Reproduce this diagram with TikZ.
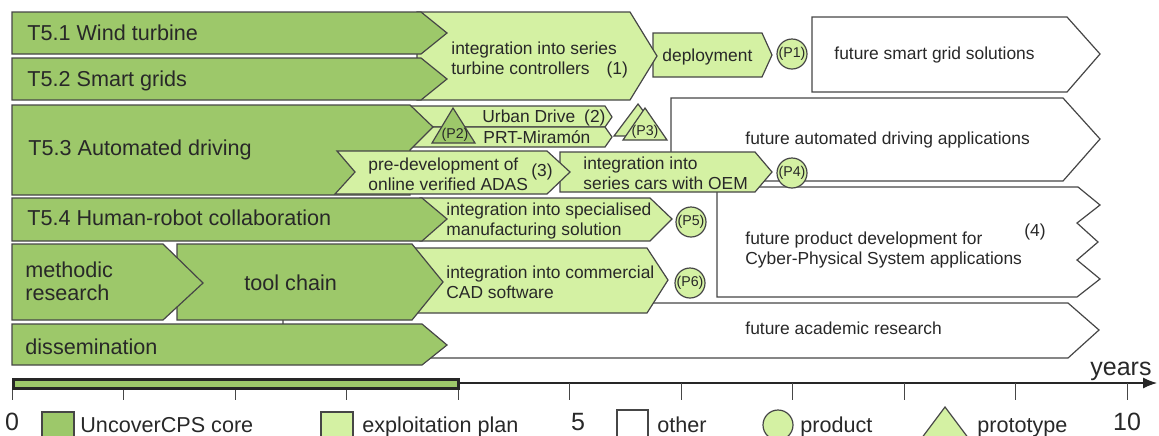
\documentclass[tikz,border=0pt]{standalone}
\usepackage{fontspec}
\setmainfont{Liberation Sans}
\usetikzlibrary{arrows.meta}
\definecolor{coregreen}{RGB}{157,200,106}
\definecolor{plangreen}{RGB}{212,241,163}
\definecolor{edgegray}{RGB}{70,70,70}
\definecolor{txtgray}{RGB}{40,40,40}
\tikzset{
  core/.style={fill=coregreen, draw=edgegray, line width=0.6pt},
  plan/.style={fill=plangreen, draw=edgegray, line width=0.6pt},
  other/.style={fill=white, draw=edgegray, line width=0.6pt},
  bigtxt/.style={font=\fontsize{10.8}{11.5}\selectfont, text=txtgray, inner sep=0pt, anchor=base west, align=left},
  midtxt/.style={font=\fontsize{8.7}{9.8}\selectfont, text=txtgray, inner sep=0pt, anchor=base west, align=left},
  ptxt/.style={font=\fontsize{7.1}{8}\selectfont, text=txtgray, inner sep=0pt},
  axtxt/.style={font=\fontsize{12.5}{14}\selectfont, text=txtgray, inner sep=0pt, anchor=base},
  prod/.style={circle, fill=plangreen, draw=edgegray, line width=0.6pt, minimum size=15pt,
               inner sep=0pt, font=\fontsize{7.1}{8}\selectfont, text=txtgray},
}

\begin{document}
\begin{tikzpicture}[x=0.5pt, y=-0.5pt]
  \useasboundingbox (0,0) rectangle (1159,435);
  \clip (0,0) rectangle (1159,435);

  %% === other: future plans in the back ===
  \draw[other] (812,17) -- (1067,17) -- (1100,54) -- (1067,92) -- (812,92) -- cycle;
  \draw[other] (671,98) -- (1063,98) -- (1100,139) -- (1063,181) -- (671,181) -- cycle;
  \draw[other] (717,187) -- (1078,187) -- (1100,205) -- (1077,223) -- (1098,242)
               -- (1077,260) -- (1100,279) -- (1077,297) -- (717,297) -- cycle;
  \draw[other] (283,303) -- (1068,303) -- (1099,330) -- (1068,358) -- (283,358) -- cycle;

  % multi-line texts are placed at the baseline of their last line
  \node[midtxt] (fsmart) at (834,59) {future smart grid solutions};
  \node[midtxt] (fauto) at (745,144) {future automated driving applications};
  \node[midtxt] (fprod) at (745,264) {future product development for\\Cyber-Physical System applications};
  \node[midtxt, anchor=center] (fprodn) at (1035,232) {(4)};
  \node[midtxt] (facad) at (745,334) {future academic research};

  %% === exploitation plan ===
  \draw[plan] (653,33) -- (762,33) -- (772,55) -- (762,77) -- (653,77) -- cycle;
  \draw[plan] (417,12) -- (630,12) -- (657,56) -- (630,100) -- (417,100) -- cycle;
  \draw[plan] (410,106) -- (605,106) -- (612,117) -- (605,127) -- (410,127) -- cycle;
  \draw[plan] (410,127) -- (605,127) -- (612,137) -- (605,147) -- (410,147) -- cycle;
  \draw[plan] (560,152) -- (755,152) -- (772,172) -- (755,192) -- (560,192) -- cycle;
  \draw[plan] (420,198) -- (650,198) -- (672,219) -- (650,241) -- (420,241) -- cycle;
  \draw[plan] (410,248) -- (647,248) -- (668,280) -- (647,313) -- (410,313) -- cycle;

  \node[midtxt] (deploy) at (662,61) {deployment};
  \node[midtxt] (intturb) at (451,74) {integration into series\\turbine controllers\hspace{8.5pt}(1)};
  \node[midtxt] (urban) at (482,122) {Urban Drive\hspace{4.5pt}(2)};
  \node[midtxt] (prt) at (483,143) {PRT-Miramón};
  \node[midtxt] (intcars) at (583,189) {integration into\\series cars with OEM};
  \node[midtxt] (intspec) at (446,235) {integration into specialised\\manufacturing solution};
  \node[midtxt] (intcad) at (446,298) {integration into commercial\\CAD software};

  %% === UncoverCPS core ===
  \draw[core] (12,12) -- (421,12) -- (447,33) -- (421,54) -- (12,54) -- cycle;
  \draw[core] (12,58) -- (421,58) -- (447,79) -- (421,100) -- (12,100) -- cycle;
  \draw[core] (12,105) -- (410,105) -- (433,127) -- (410,150) -- (410,195) -- (12,195) -- cycle;
  % pre-development sits over T5.3
  \draw[plan] (337,151) -- (547,151) -- (570,172) -- (547,194) -- (335,194) -- (355,172) -- cycle;
  \draw[core] (12,198) -- (422,198) -- (447,219) -- (422,241) -- (12,241) -- cycle;
  \draw[core] (177,244) -- (412,244) -- (443,282) -- (412,320) -- (177,320) -- cycle;
  \draw[core] (12,244) -- (163,244) -- (203,283) -- (163,320) -- (12,320) -- cycle;
  \draw[core] (12,324) -- (422,324) -- (447,345) -- (422,365) -- (12,365) -- cycle;

  \node[bigtxt] (t51) at (27,40) {T5.1 Wind turbine};
  \node[bigtxt] (t52) at (27,86) {T5.2 Smart grids};
  \node[bigtxt] (t53) at (28,155) {T5.3 Automated driving};
  \node[midtxt] (predev) at (368,190) {pre-development of\\online verified ADAS};
  \node[midtxt, anchor=center] (predevn) at (542,172) {(3)};
  \node[bigtxt] (t54) at (27,225) {T5.4 Human-robot collaboration};
  \node[bigtxt] (meth) at (25,300) {methodic\\research};
  \node[bigtxt] (tool) at (244,290) {tool chain};
  \node[bigtxt] (diss) at (25,354) {dissemination};

  %% === prototypes and products ===
  \draw[core] (453,108) -- (475,143) -- (432,143) -- cycle;
  \node[ptxt] (proto2) at (455,135) {(P2)};
  \draw[plan] (638,104) -- (662,136) -- (614,136) -- cycle;
  \draw[plan] (645,108) -- (667,140) -- (623,140) -- cycle;
  \node[ptxt] (proto3) at (645,132) {(P3)};

  \node[prod] (p1) at (792,54) {(P1)};
  \node[prod] (p4) at (792,173) {(P4)};
  \node[prod] (p5) at (691,222) {(P5)};
  \node[prod] (p6) at (690,283) {(P6)};

  %% === time axis ===
  \coordinate (t0) at (12,383);
  \coordinate (tend) at (1157,383);
  \draw[draw=black!85, line width=0.6pt, -{Latex[length=7pt,width=5.5pt]}] (t0) -- (tend);
  \foreach \k in {0,...,10}
    \draw[edgegray, line width=0.5pt] ({12+111.5*\k},383) -- ++(0,17);
  \draw[fill=coregreen, draw=black!85, line width=1.5pt] (13.5,379.5) rectangle (458.5,388.5);

  \node[axtxt] (y0) at (12,430) {0};
  \node[axtxt] (y5) at (578,430) {5};
  \node[axtxt] (y10) at (1127,430) {10};
  \node[axtxt, anchor=base west] (years) at (1090,375) {years};

  %% === legend ===
  \draw[core] (42,412) rectangle (74,445);
  \node[bigtxt] (lcore) at (80,432) {UncoverCPS core};
  \draw[plan] (321,412) rectangle (353,445);
  \node[bigtxt] (lplan) at (362,432) {exploitation plan};
  \draw[other] (617,410) rectangle (648,445);
  \node[bigtxt] (lother) at (657,432) {other};
  \node[prod] (lprod) at (778,425) {};
  \node[bigtxt] (lprodt) at (800,432) {product};
  \draw[plan] (945,407) -- (975,447) -- (915,447) -- cycle;
  \node[bigtxt] (lproto) at (977,432) {prototype};
\end{tikzpicture}
\end{document}
